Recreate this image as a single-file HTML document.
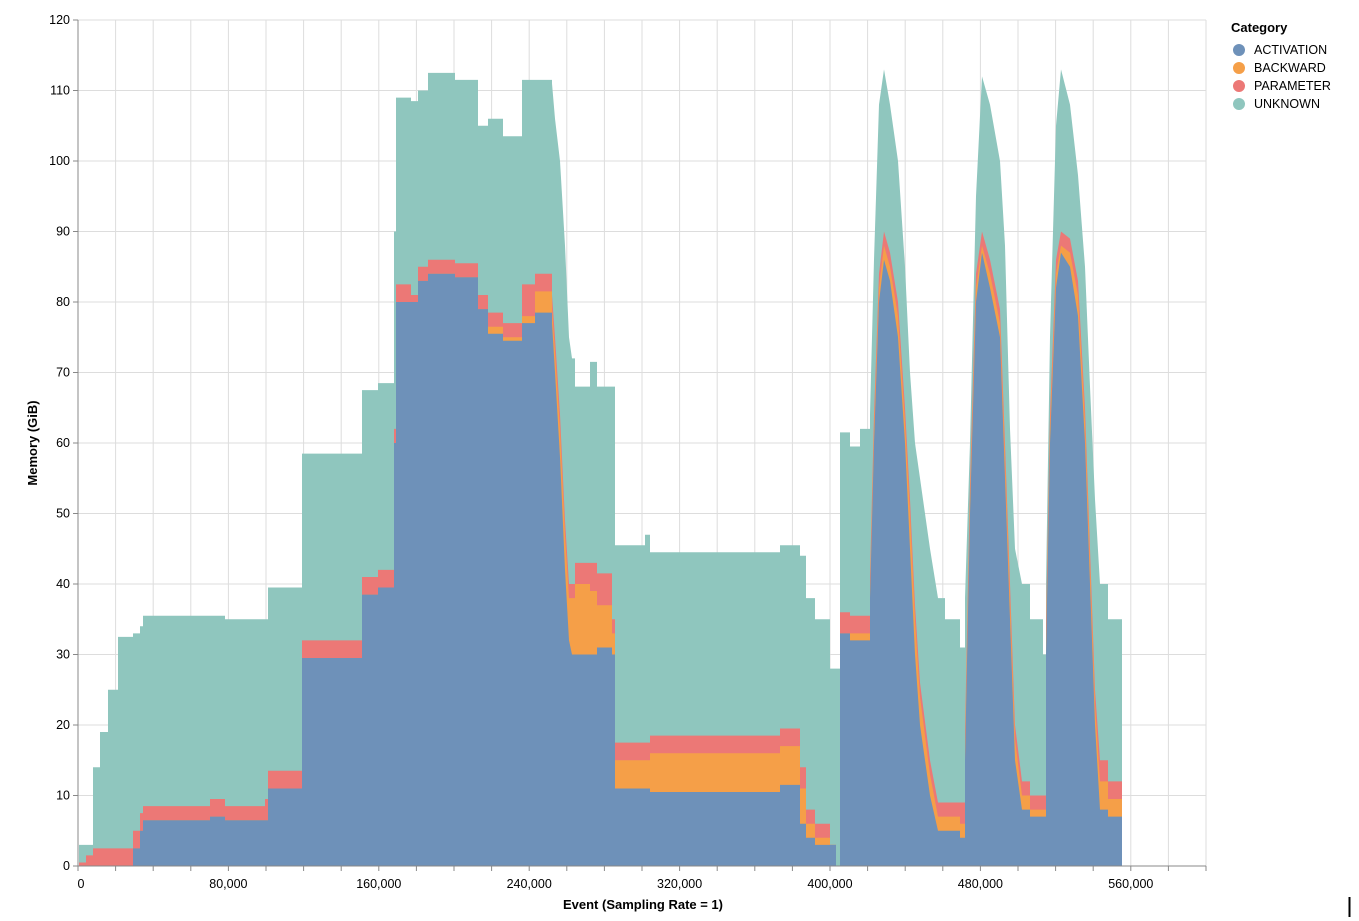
<!DOCTYPE html>
<html><head><meta charset="utf-8"><style>
body{margin:0;background:#fff;}
svg{display:block;font-family:"Liberation Sans",Arial,sans-serif;}
</style></head><body>
<svg id="s" width="1359" height="921" viewBox="0 0 1359 921">
<g id="grid" stroke="#ddd" stroke-width="1"></g>
<g id="areas"></g>
<g id="axes"></g>
<g font-size="11" fill="#000">
<text x="1231" y="32" font-weight="bold" font-size="13">Category</text>
<circle cx="1239" cy="50" r="6" fill="#6e91b9"/><text x="1254" y="54" font-size="12.5">ACTIVATION</text>
<circle cx="1239" cy="68" r="6" fill="#f59f48"/><text x="1254" y="72" font-size="12.5">BACKWARD</text>
<circle cx="1239" cy="86" r="6" fill="#ec7876"/><text x="1254" y="90" font-size="12.5">PARAMETER</text>
<circle cx="1239" cy="104" r="6" fill="#8fc6be"/><text x="1254" y="108" font-size="12.5">UNKNOWN</text>
</g>
<text x="643" y="909" text-anchor="middle" font-weight="bold" font-size="13">Event (Sampling Rate = 1)</text>
<text transform="translate(37,443) rotate(-90)" text-anchor="middle" font-weight="bold" font-size="13">Memory (GiB)</text>
<line x1="1349.5" y1="897" x2="1349.5" y2="917" stroke="#000" stroke-width="2"/>
</svg>
<script>
(function(){
var NS="http://www.w3.org/2000/svg";
var X0=78,Y0=866,YS=7.05,XE=1206;
function Y(v){return Y0-v*YS;}
var g=document.getElementById('grid'),ax=document.getElementById('axes'),ar=document.getElementById('areas');
function el(p,t,a){var e=document.createElementNS(NS,t);for(var k in a)e.setAttribute(k,a[k]);p.appendChild(e);return e;}
for(var i=0;i<=30;i++){var x=X0+i*37.6;el(g,'line',{x1:x,y1:20,x2:x,y2:Y0});el(ax,'line',{x1:x,y1:Y0,x2:x,y2:Y0+5,stroke:'#888'});}
for(var v=0;v<=120;v+=10){var y=Y(v);el(g,'line',{x1:X0,y1:y,x2:XE,y2:y});el(ax,'line',{x1:X0-5,y1:y,x2:X0,y2:y,stroke:'#888'});
 var t=el(ax,'text',{x:X0-8,y:y+4,'text-anchor':'end','font-size':12.5});t.textContent=v;}
el(ax,'line',{x1:X0,y1:20,x2:X0,y2:Y0,stroke:'#888'});el(ax,'line',{x1:X0,y1:Y0,x2:XE,y2:Y0,stroke:'#888'});
[0,80,160,240,320,400,480,560].forEach(function(k){var x=X0+k/20*37.6;var t=el(ax,'text',{x:k==0?x+3:x,y:888,'text-anchor':'middle','font-size':12.5});t.textContent=k==0?'0':k+',000';});
var D=[[79,0,0,0.5,3],[86,0,0,1.5,3],[93,0,0,2.5,14],[100,0,0,2.5,19],[108,0,0,2.5,25],[118,0,0,2.5,32.5],[133,2.5,2.5,5,33],[140,5,5,7.5,34],[143,6.5,6.5,8.5,35.5],[210,7,7,9.5,35.5],[225,6.5,6.5,8.5,35],[265,6.5,6.5,9.5,35],[268,11,11,13.5,39.5],[302,29.5,29.5,32,58.5],[362,38.5,38.5,41,67.5],[378,39.5,39.5,42,68.5],[394,60,60,62,90],[396,80,80,82.5,109],[411,80,80,81,108.5],[418,83,83,85,110],[428,84,84,86,112.5],[455,83.5,83.5,85.5,111.5],[478,79,79,81,105],[488,75.5,76.5,78.5,106],[503,74.5,75,77,103.5],[522,77,78,82.5,111.5],[535,78.5,81.5,84,111.5],[552,77,79,81,111,1],[555,70,73,75,106,1],[560,58,62,64,100,1],[565,42,47,49,88,1],[569,32,38,40,75,1],[572,30,38,40,72],[575,30,40,43,68],[590,30,39,43,71.5],[597,31,37,41.5,68],[612,30,33,35,68],[615,11,15,17.5,45.5],[645,11,15,17.5,47],[650,10.5,16,18.5,44.5],[780,11.5,17,19.5,45.5],[800,6,11,14,44],[806,4,6,8,38],[815,3,4,6,35],[830,3,3,3,28],[836,0,0,0,28],[840,33,33,36,61.5],[850,32,33,35.5,59.5],[860,32,33,35.5,62],[870,38,39,41,64,1],[874,60,62,64,86,1],[879,80,82,84,108,1],[884,86,88,90,113,1],[890,83,85,87,108,1],[898,75,78,80,100,1],[905,60,63,65,85,1],[910,45,50,52,70,1],[915,30,35,37,60,1],[920,20,24,26,55,1],[930,10,13,15,45,1],[938,5,7,9,38],[945,5,7,9,35],[960,4,6,9,31],[965,15,17,19,38,1],[970,50,52,54,60,1],[976,80,82,84,95,1],[982,87,88,90,112,1],[990,82,84,86,108,1],[1000,75,77,79,100,1],[1005,55,58,60,88,1],[1010,35,38,40,62,1],[1015,15,18,20,45,1],[1022,8,10,12,40],[1030,7,8,10,35],[1043,7,8,10,30],[1046,30,32,34,40,1],[1050,60,62,64,75,1],[1056,82,84,86,105,1],[1061,87,88,90,113,1],[1070,85,87,89,108,1],[1078,78,81,83,98,1],[1085,60,63,65,85,1],[1090,40,43,45,68,1],[1095,20,23,25,52,1],[1100,8,12,15,40],[1108,7,9.5,12,35]];
var END=1122;
function topPath(i){var s='';D.forEach(function(r,j){var x2=j<D.length-1?D[j+1][0]:END;var y=Y(r[i]).toFixed(1);s+=' L'+r[0]+','+y;if(!r[5])s+=' L'+x2+','+y;});return s;}
var cols=['#8fc6be','#ec7876','#f59f48','#6e91b9'];
[4,3,2,1].forEach(function(i,k){el(ar,'path',{d:'M79,'+Y0+topPath(i)+' L'+END+','+Y0+' Z',fill:cols[k]});});
})();
</script>
</body></html>
